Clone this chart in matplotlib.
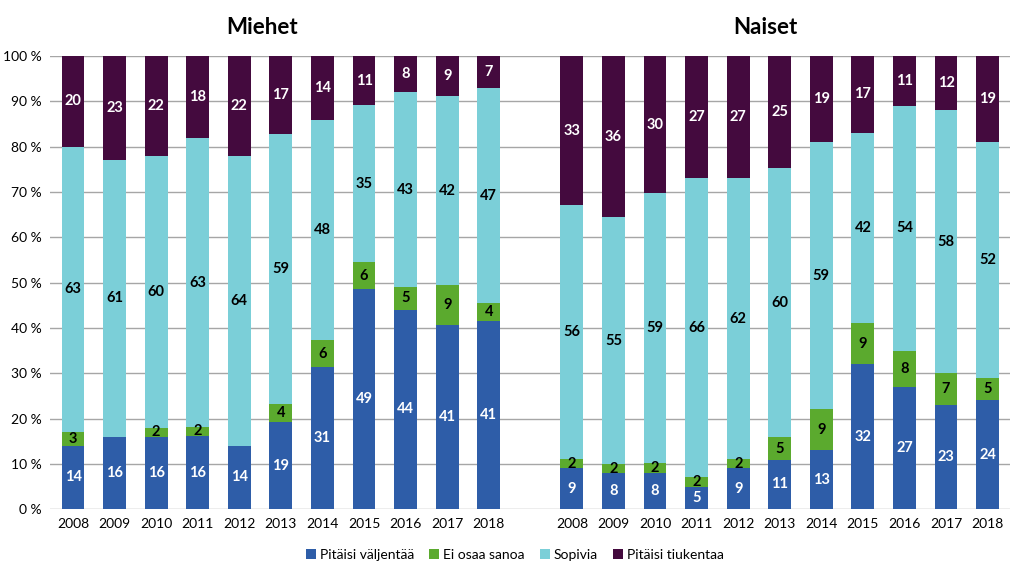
import numpy as np
import matplotlib
matplotlib.use("Agg")
import matplotlib.pyplot as plt

plt.rcParams['font.family'] = ['Lato', 'DejaVu Sans']

# ---- data ----
vuodet = ["2008", "2009", "2010", "2011", "2012", "2013", "2014", "2015", "2016", "2017", "2018"]

miehet_valjentaa = [14, 16, 16, 16, 14, 19, 31, 49, 44, 41, 41]
miehet_eos = [3, 0, 2, 2, 0, 4, 6, 6, 5, 9, 4]
miehet_sopivia = [63, 61, 60, 63, 64, 59, 48, 35, 43, 42, 47]
miehet_tiukentaa = [20, 23, 22, 18, 22, 17, 14, 11, 8, 9, 7]

naiset_valjentaa = [9, 8, 8, 5, 9, 11, 13, 32, 27, 23, 24]
naiset_eos = [2, 2, 2, 2, 2, 5, 9, 9, 8, 7, 5]
naiset_sopivia = [56, 55, 59, 66, 62, 60, 59, 42, 54, 58, 52]
naiset_tiukentaa = [33, 36, 30, 27, 27, 25, 19, 17, 11, 12, 19]

sarjat = ["Pitäisi väljentää", "Ei osaa sanoa", "Sopivia", "Pitäisi tiukentaa"]
varit = ["#2E5DA8", "#5BAA2E", "#7BCFD8", "#440A3E"]
tekstivarit = ["white", "black", "black", "white"]

# ---- figure ----
fig = plt.figure(figsize=(10.24, 5.76), dpi=100)
ax = fig.add_axes([0.049, 0.116, 0.937, 0.787])

n = len(vuodet)
x_m = np.arange(n)
x_n = np.arange(n) + n + 1
leveys = 0.55

def piirra(x, ryhma):
    data = np.array(ryhma, dtype=float)
    osuus = data / data.sum(axis=0) * 100
    pohja = np.zeros(len(x))
    for k in range(len(sarjat)):
        ax.bar(x, osuus[k], leveys, bottom=pohja, color=varit[k],
               label=sarjat[k], zorder=3)
        for i in range(len(x)):
            if data[k, i] > 0:
                ax.text(x[i], pohja[i] + osuus[k, i] / 2, str(int(data[k, i])),
                        ha='center', va='center', fontsize=10.5, fontweight='bold',
                        color=tekstivarit[k], zorder=4)
        pohja = pohja + osuus[k]

piirra(x_m, [miehet_valjentaa, miehet_eos, miehet_sopivia, miehet_tiukentaa])
handles, labels = ax.get_legend_handles_labels()
piirra(x_n, [naiset_valjentaa, naiset_eos, naiset_sopivia, naiset_tiukentaa])

ax.set_ylim(0, 100)
ax.set_xlim(-0.55, 2 * n + 0.53)
ax.set_yticks(np.arange(0, 101, 10))
ax.set_yticklabels([str(v) + " %" for v in range(0, 101, 10)], fontsize=10)
ax.set_xticks(np.concatenate([x_m, x_n]))
ax.set_xticklabels(vuodet + vuodet, fontsize=10)
ax.tick_params(length=0, pad=6)
ax.yaxis.grid(True, color="#A6A6A6", linewidth=1, zorder=0)
for s in ["top", "right", "left", "bottom"]:
    ax.spines[s].set_visible(False)

# otsikot hieman vasemmalle kuten alkuperäisessä
ax.text(x_m.mean() - 0.45, 104, "Miehet", ha='center', va='bottom', fontsize=16, fontweight='bold')
ax.text(x_n.mean() - 0.35, 104, "Naiset", ha='center', va='bottom', fontsize=16, fontweight='bold')

fig.legend(handles[:4], labels[:4], loc='lower center', ncol=4, frameon=False,
           fontsize=10, handlelength=0.7, handleheight=0.7, handletextpad=0.3,
           columnspacing=1.1, bbox_to_anchor=(0.503, 0.005))

fig.savefig("out.png", dpi=100)
